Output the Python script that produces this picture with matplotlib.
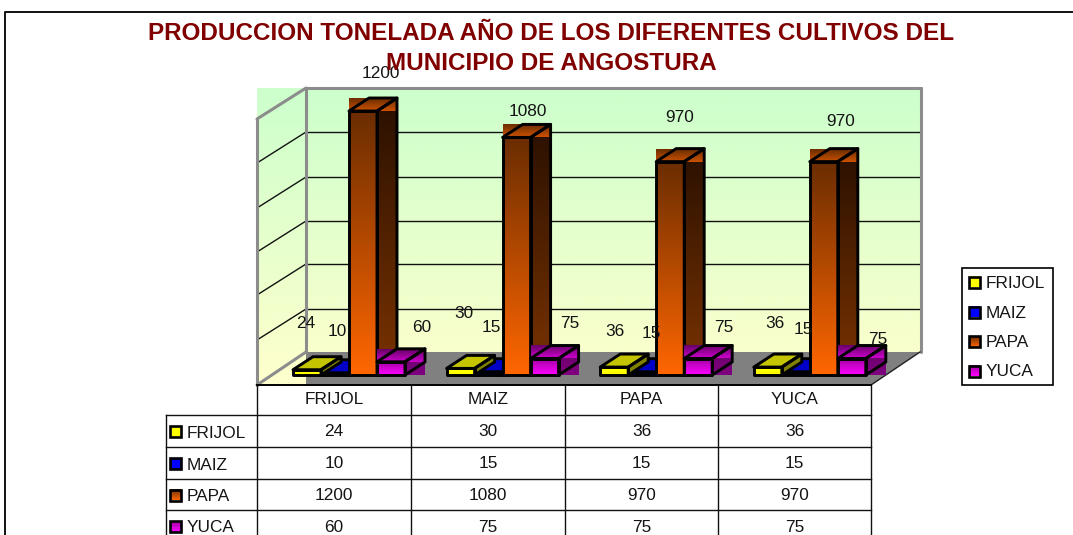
"""Excel style 3D column chart with data table, drawn in pixel coordinates."""
import matplotlib
matplotlib.use('Agg')
import matplotlib.pyplot as plt
import numpy as np
from matplotlib.colors import to_rgb
from matplotlib.patches import Polygon, Rectangle

plt.rcParams['font.family'] = ['Liberation Sans', 'DejaVu Sans']

CATEGORIES = ['FRIJOL', 'MAIZ', 'PAPA', 'YUCA']
SERIES = ['FRIJOL', 'MAIZ', 'PAPA', 'YUCA']
FRIJOL = [24, 30, 36, 36]
MAIZ = [10, 15, 15, 15]
PAPA = [1200, 1080, 970, 970]
YUCA = [60, 75, 75, 75]
TITLE_LINES = ['PRODUCCION TONELADA AÑO DE LOS DIFERENTES CULTIVOS DEL',
               'MUNICIPIO DE ANGOSTURA']

# scale: pixels per tonne, from floor front edge
BASE = 375
K = 264 / 1200
CAT_W = 153.6
BAR_W = 28
DX, DY = 20, 13
FS = 12.4
TXT = '#141414'

# colours: front top/bottom, side top/bottom, lid top/bottom
STYLES = {
    'FRIJOL': ('#ffff00', '#ffff00', '#808000', '#808000', '#c4c400', '#c4c400'),
    'MAIZ': ('#0000ff', '#0000ff', '#000080', '#000080', '#0000c8', '#0000c8'),
    'PAPA': ('#6b2d00', '#ff6600', '#2a1000', '#7a3300', '#6b2d00', '#cc5200'),
    'YUCA': ('#a000a0', '#ff00ff', '#660066', '#800080', '#660066', '#cc00cc'),
}
VALUES = {'FRIJOL': FRIJOL, 'MAIZ': MAIZ, 'PAPA': PAPA, 'YUCA': YUCA}
# drawing order differs from series order: blue sits behind the yellow lid
DRAW_ORDER = [1, 0, 2, 3]
# the gradient series show their face bounding boxes, the flat ones do not
BOXED = {'PAPA', 'YUCA'}

# label centres in pixels, the original has them scattered
LABEL_XY = {
    'FRIJOL': [(306, 324), (464, 313), (615, 331), (775, 323)],
    'MAIZ': [(337, 332), (491, 327), (651, 334), (803, 330)],
    'PAPA': [(381, 73), (528, 112), (680, 117), (841, 122)],
    'YUCA': [(422, 327), (570, 324), (724, 327), (878, 339)],
}

fig = plt.figure(figsize=(10.73, 5.35), dpi=100)
ax = fig.add_axes([0, 0, 1, 1])


def gradient(x0, y0, x1, y1, c0, c1, z, clip=None):
    rows = np.linspace(to_rgb(c0), to_rgb(c1), 64).reshape(64, 1, 3)
    im = ax.imshow(rows, extent=(x0, x1, y1, y0), aspect='auto', zorder=z,
                   interpolation='bilinear')
    if clip is not None:
        im.set_clip_path(Polygon(clip, transform=ax.transData))
    return im


def outline(points, z, lw=2.1, color='black'):
    ax.add_patch(Polygon(points, closed=True, fill=False, edgecolor=color,
                         linewidth=lw, joinstyle='round', zorder=z))


def draw_bar(x, value, name, z):
    front_c0, front_c1, side_c0, side_c1, lid_c0, lid_c1 = STYLES[name]
    top = BASE - value * K
    lid = [(x, top), (x + BAR_W, top), (x + BAR_W + DX, top - DY), (x + DX, top - DY)]
    side = [(x + BAR_W, top), (x + BAR_W + DX, top - DY),
            (x + BAR_W + DX, BASE - DY), (x + BAR_W, BASE)]
    front = [(x, top), (x + BAR_W, top), (x + BAR_W, BASE), (x, BASE)]
    boxed = name in BOXED
    gradient(x + BAR_W, top - DY, x + BAR_W + DX, BASE, side_c0, side_c1, z,
             clip=None if boxed else side)
    gradient(x, top - DY, x + BAR_W + DX, top, lid_c0, lid_c1, z + 0.1,
             clip=None if boxed else lid)
    gradient(x, top, x + BAR_W, BASE, front_c0, front_c1, z + 0.2)
    outline(lid, z + 0.3)
    outline(side, z + 0.3)
    outline(front, z + 0.3)


# plot area background, walls and floor
gradient(257, 88, 920, 385, '#ccffcc', '#ffffcc', 1,
         clip=[(257, 88), (920, 88), (920, 352), (871, 385), (257, 385)])
ax.add_patch(Polygon([(306, 352), (920, 352), (871, 385), (306, 385)],
                     facecolor='#808080', edgecolor='none', zorder=2))
for y in [132, 177, 221, 264, 309]:
    ax.plot([306, 920], [y, y], color='#111111', lw=1, zorder=3)
    ax.plot([306, 257], [y, y + 31], color='#111111', lw=1, zorder=3)
for seg in [[(257, 119), (306, 88)], [(306, 88), (921, 88)], [(921, 88), (921, 352)],
            [(306, 88), (306, 352)], [(257, 119), (257, 385)], [(257, 385), (306, 352)]]:
    ax.plot(*zip(*seg), color='#8c8c8c', lw=2.2, zorder=3,
            solid_capstyle='round')
ax.plot([871, 920], [385, 352], color='#202020', lw=1, zorder=3)

# columns
for i in range(len(CATEGORIES)):
    for j in DRAW_ORDER:
        name = SERIES[j]
        draw_bar(293 + CAT_W * i + BAR_W * j, VALUES[name][i], name,
                 10 + i * 5 + DRAW_ORDER.index(j))

# data labels
for name in SERIES:
    for val, (lx, ly) in zip(VALUES[name], LABEL_XY[name]):
        ax.text(lx, ly, str(val), fontsize=FS, ha='center', va='center',
                color=TXT, zorder=40)

# title, two lines placed one by one since the spacing is wider than default
for line, ty in zip(TITLE_LINES, [34, 64]):
    ax.text(551, ty, line, fontsize=17.5, fontweight='bold', color='#800000',
            ha='center', va='center', zorder=50)

# data table
col_x = [257, 411, 565, 718, 871]
row_y = [385, 415, 447, 479, 510, 542]
for x in col_x:
    ax.plot([x, x], [row_y[0], row_y[-1]], color='#111111', lw=1, zorder=5)
ax.plot([166, 166], [row_y[1], row_y[-1]], color='#111111', lw=1, zorder=5)
ax.plot([257, 871], [row_y[0], row_y[0]], color='black', lw=1.4, zorder=5)
for y in row_y[1:]:
    ax.plot([166, 871], [y, y], color='#111111', lw=1, zorder=5)
for c, cat in enumerate(CATEGORIES):
    ax.text((col_x[c] + col_x[c + 1]) / 2, 400, cat, fontsize=FS, ha='center',
            va='center', color=TXT)


def swatch(x, y, name):
    style = STYLES[name]
    gradient(x, y, x + 11, y + 11, style[0], style[1], 6)
    ax.add_patch(Rectangle((x, y), 11, 11, fill=False, edgecolor='black',
                           linewidth=1.9, zorder=7))


for r, name in enumerate(SERIES):
    y_mid = (row_y[r + 1] + row_y[r + 2]) / 2
    swatch(170, y_mid - 5, name)
    ax.text(187, y_mid + 2, name, fontsize=FS, ha='left', va='center', color=TXT)
    for c in range(len(CATEGORIES)):
        ax.text((col_x[c] + col_x[c + 1]) / 2, y_mid + 1, str(VALUES[name][c]),
                fontsize=FS, ha='center', va='center', color=TXT)

# legend box
ax.add_patch(Rectangle((962, 268), 91, 117, facecolor='white', edgecolor='black',
                       linewidth=1.2, zorder=5))
for name, y_mid in zip(SERIES, [282, 312, 341.5, 371]):
    swatch(968.5, y_mid - 5.5, name)
    ax.text(986, y_mid + 1, name, fontsize=FS, ha='left', va='center', color=TXT, zorder=8)

# chart frame, only left and top show in the picture
ax.plot([5, 5, 1080], [540, 12, 12], color='#111111', lw=1.4, zorder=1)

ax.set_xlim(0, 1073)
ax.set_ylim(535, 0)
ax.axis('off')
fig.savefig('out.png', dpi=100, facecolor='white')
